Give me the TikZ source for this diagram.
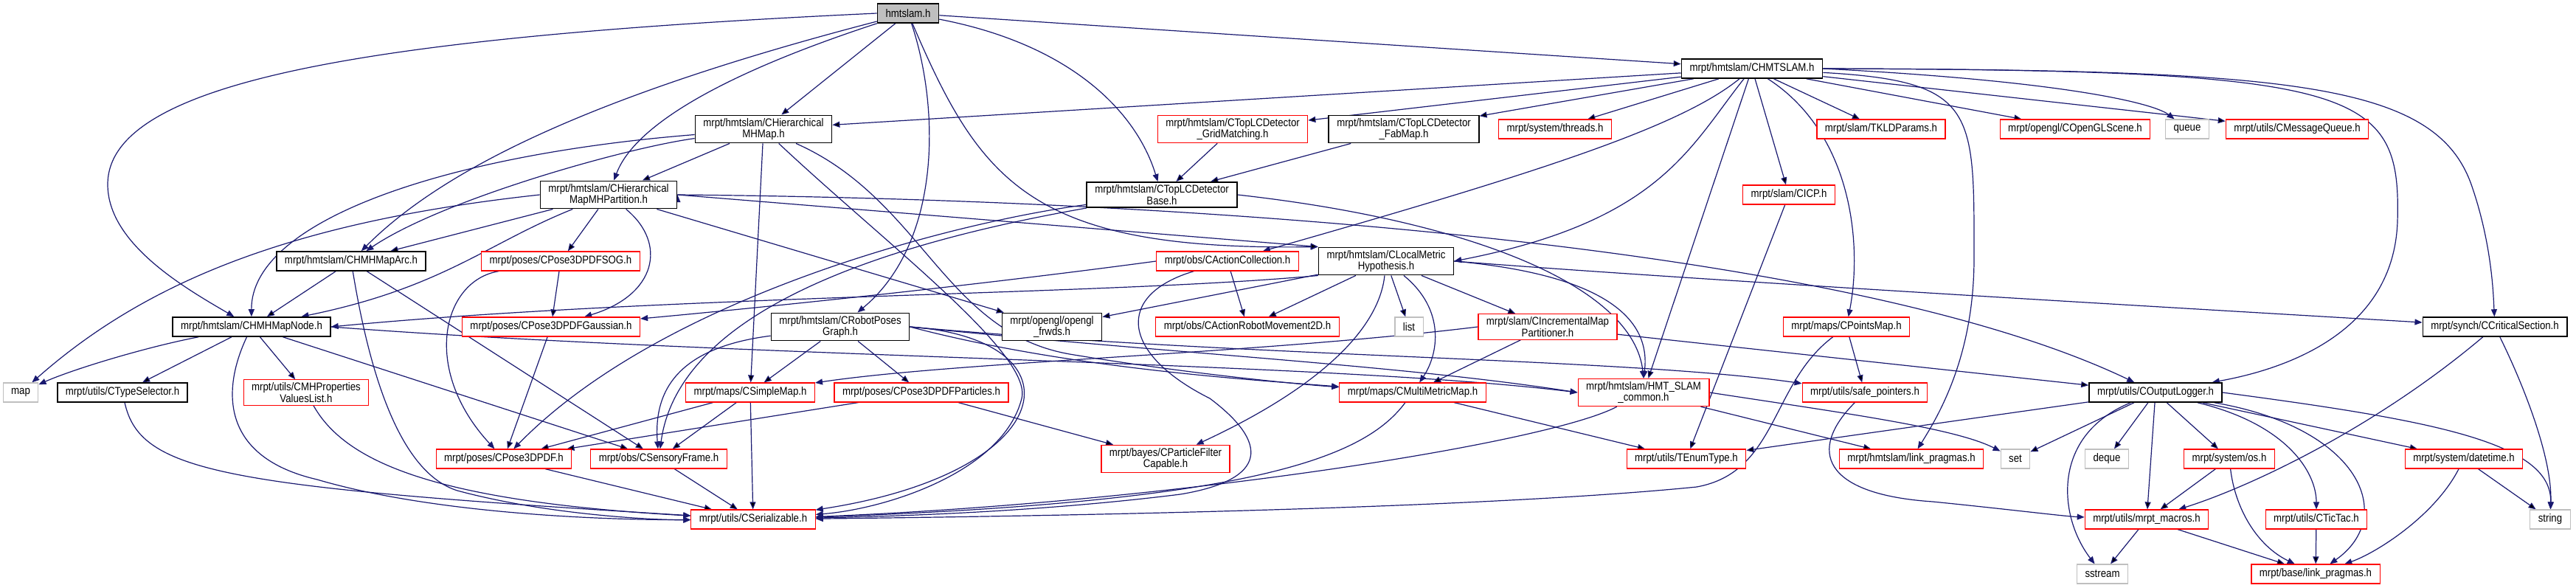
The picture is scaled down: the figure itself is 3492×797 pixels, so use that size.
\documentclass[tikz,border=0pt]{standalone}
\usepackage{fontspec}
\setmainfont{Liberation Sans}[FakeStretch=0.87]
\usetikzlibrary{arrows.meta,backgrounds}
\definecolor{edgeblue}{HTML}{191970}
\definecolor{boxgray}{HTML}{BFBFBF}
\newcommand*\fname{\fontsize{7.6}{7.6}\selectfont}

\begin{document}
\begin{tikzpicture}[x=0.5pt,y=-0.5pt,>={Triangle[length=5pt,width=4pt]},
	file/.style={shape=rectangle,draw,fill=white,font=\fname,align=center,inner xsep=5.5pt,inner ysep=2pt,minimum height=13pt,line width=0.6pt},
	docfile/.style={file,draw=black,line width=0.8pt},
	extfile/.style={file,draw=red},
	sysfile/.style={file,draw=boxgray},
	dep/.style={->,draw=edgeblue,line width=0.6pt}]
	\useasboundingbox (0,0) rectangle (3492,797);

	% top rows
	\node (hm) [docfile,fill=boxgray] at (1231,18) {hmtslam.h};
	\node (slam) [docfile] at (2375,93) {mrpt/hmtslam/CHMTSLAM.h};
	\node (mhm) [docfile] at (1035,175) {mrpt/hmtslam/CHierarchical\\MHMap.h};
	\node (grid) [extfile] at (1671,175) {mrpt/hmtslam/CTopLCDetector\\\_GridMatching.h};
	\node (fab) [docfile] at (1903,175) {mrpt/hmtslam/CTopLCDetector\\\_FabMap.h};
	\node (thr) [extfile] at (2108,175) {mrpt/system/threads.h};
	\node (tkld) [extfile] at (2550,175) {mrpt/slam/TKLDParams.h};
	\node (gls) [extfile] at (2813,175) {mrpt/opengl/COpenGLScene.h};
	\node (queue) [sysfile] at (2965,175) {queue};
	\node (mq) [extfile] at (3114,175) {mrpt/utils/CMessageQueue.h};
	\node (part) [docfile] at (825,264) {mrpt/hmtslam/CHierarchical\\MapMHPartition.h};
	\node (base) [docfile] at (1575,264) {mrpt/hmtslam/CTopLCDetector\\Base.h};
	\node (icp) [extfile] at (2425,264) {mrpt/slam/CICP.h};

	% middle rows
	\node (maparc) [docfile] at (476,354) {mrpt/hmtslam/CHMHMapArc.h};
	\node (sog) [extfile] at (760,354) {mrpt/poses/CPose3DPDFSOG.h};
	\node (acol) [extfile] at (1664,354) {mrpt/obs/CActionCollection.h};
	\node (lmh) [docfile] at (1879,354) {mrpt/hmtslam/CLocalMetric\\Hypothesis.h};
	\node (mapnode) [docfile] at (341,443) {mrpt/hmtslam/CHMHMapNode.h};
	\node (gauss) [extfile] at (747,443) {mrpt/poses/CPose3DPDFGaussian.h};
	\node (rpg) [docfile] at (1139,443) {mrpt/hmtslam/CRobotPoses\\Graph.h};
	\node (frwds) [docfile] at (1426,443) {mrpt/opengl/opengl\\\_frwds.h};
	\node (arm) [extfile] at (1691,443) {mrpt/obs/CActionRobotMovement2D.h};
	\node (stdlist) [sysfile] at (1910,443) {list};
	\node (imp) [extfile] at (2098,443) {mrpt/slam/CIncrementalMap\\Partitioner.h};
	\node (pmap) [extfile] at (2503,443) {mrpt/maps/CPointsMap.h};
	\node (crit) [docfile] at (3382,443) {mrpt/synch/CCriticalSection.h};
	\node (stdmap) [sysfile] at (28,532) {map};
	\node (tsel) [docfile] at (166,532) {mrpt/utils/CTypeSelector.h};
	\node (props) [extfile] at (415,532) {mrpt/utils/CMHProperties\\ValuesList.h};
	\node (smap) [extfile] at (1017,532) {mrpt/maps/CSimpleMap.h};
	\node (parts) [extfile] at (1249,532) {mrpt/poses/CPose3DPDFParticles.h};
	\node (mmm) [extfile] at (1915,532) {mrpt/maps/CMultiMetricMap.h};
	\node (hmtc) [extfile] at (2228,532) {mrpt/hmtslam/HMT\_SLAM\\\_common.h};
	\node (safe) [extfile] at (2528,532) {mrpt/utils/safe\_pointers.h};
	\node (logger) [docfile] at (2922,532) {mrpt/utils/COutputLogger.h};

	% bottom rows
	\node (pdf) [extfile] at (683,622) {mrpt/poses/CPose3DPDF.h};
	\node (sf) [extfile] at (893,622) {mrpt/obs/CSensoryFrame.h};
	\node (pfc) [extfile] at (1580,622) {mrpt/bayes/CParticleFilter\\Capable.h};
	\node (enum) [extfile] at (2286,622) {mrpt/utils/TEnumType.h};
	\node (hlp) [extfile] at (2591,622) {mrpt/hmtslam/link\_pragmas.h};
	\node (stdset) [sysfile] at (2732,622) {set};
	\node (deque) [sysfile] at (2856,622) {deque};
	\node (os) [extfile] at (3022,622) {mrpt/system/os.h};
	\node (dt) [extfile] at (3340,622) {mrpt/system/datetime.h};
	\node (ser) [extfile] at (1021,704) {mrpt/utils/CSerializable.h};
	\node (macros) [extfile] at (2910,704) {mrpt/utils/mrpt\_macros.h};
	\node (tictac) [extfile] at (3140,704) {mrpt/utils/CTicTac.h};
	\node (string) [sysfile] at (3457,704) {string};
	\node (sst) [sysfile] at (2850,778) {sstream};
	\node (blp) [extfile] at (3139,778) {mrpt/base/link\_pragmas.h};

	\begin{scope}[on background layer]
	% hmtslam.h
	\path[dep] (hm) edge (slam);
	\path[dep] (hm) edge (mhm);
	\draw[dep] (hm) .. controls (980,100) and (860,170) .. (part);
	\draw[dep] (hm) .. controls (800,130) and (600,230) .. (maparc);
	\draw[dep] (hm.west) .. controls (500,50) and (146,110) .. (146,250) .. controls (146,330) and (250,390) .. (mapnode);
	\draw[dep] (hm) .. controls (1275,150) and (1275,330) .. (rpg);
	\draw[dep] (hm) .. controls (1330,250) and (1400,340) .. (lmh.north west);
	\draw[dep] (hm) .. controls (1450,60) and (1540,150) .. (base);

	% CHMTSLAM.h
	\path[dep] (slam) edge (mhm);
	\path[dep] (slam) edge (grid);
	\path[dep] (slam) edge (fab);
	\path[dep] (slam) edge (thr);
	\draw[dep] (slam) .. controls (2280,170) and (2100,230) .. (acol);
	\draw[dep] (slam) .. controls (2290,200) and (2250,300) .. (lmh.east);
	\path[dep] (slam) edge (hmtc);
	\path[dep] (slam) edge (icp);
	\draw[dep] (slam) .. controls (2510,180) and (2525,330) .. (pmap);
	\path[dep] (slam) edge (tkld);
	\draw[dep] (slam) .. controls (2680,110) and (2676,150) .. (2676,350) .. controls (2676,480) and (2630,560) .. (hlp);
	\path[dep] (slam) edge (gls);
	\draw[dep] (slam.east) .. controls (2800,110) and (2920,140) .. (queue);
	\path[dep] (slam) edge (mq);
	\draw[dep] (slam.east) .. controls (3200,95) and (3255,120) .. (3250,300) .. controls (3245,450) and (3100,500) .. (logger);
	\draw[dep] (slam.east) .. controls (3100,95) and (3300,110) .. (3350,250) .. controls (3378,330) and (3380,400) .. (crit);

	% CHierarchicalMHMap.h
	\path[dep] (mhm) edge (part);
	\draw[dep] (mhm) .. controls (850,200) and (600,270) .. (maparc);
	\draw[dep] (mhm) .. controls (600,210) and (340,300) .. (mapnode);
	\path[dep] (mhm) edge (smap);
	\draw[dep] (mhm) .. controls (1200,330) and (1400,480) .. (1385,540) .. controls (1360,640) and (1200,690) .. (ser);
	\draw[dep] (mhm) .. controls (1250,270) and (1280,450) .. (1450,480) .. controls (1600,505) and (1750,520) .. (mmm);

	% CHierarchicalMapMHPartition.h
	\path[dep] (part) edge (maparc);
	\draw[dep] (part) .. controls (660,330) and (600,390) .. (mapnode);
	\draw[dep] (part.west) .. controls (400,300) and (200,380) .. (stdmap);
	\path[dep] (part) edge (sog);
	\draw[dep] (part) .. controls (905,330) and (890,400) .. (gauss);
	\path[dep] (part) edge (frwds);
	\path[dep] (part.east) edge (lmh.north west);
	\draw[dep] (part.east) .. controls (1600,270) and (2500,330) .. (logger);

	% CHMHMapArc.h, CHMHMapNode.h
	\path[dep] (maparc) edge (mapnode);
	\draw[dep] (maparc) .. controls (500,500) and (540,640) .. (620,665) .. controls (750,700) and (900,705) .. (ser);
	\path[dep] (maparc) edge (sf);
	\draw[dep] (mapnode) .. controls (200,470) and (100,500) .. (stdmap);
	\path[dep] (mapnode) edge (tsel);
	\path[dep] (mapnode) edge (props);
	\draw[dep] (mapnode) .. controls (300,530) and (300,620) .. (430,650) .. controls (600,700) and (850,705) .. (ser);
	\path[dep] (mapnode) edge (sf);
	\draw[dep] (mapnode.east) .. controls (1000,485) and (1800,490) .. (hmtc.west);
	\draw[dep] (tsel) .. controls (190,640) and (300,660) .. (ser);
	\draw[dep] (props) .. controls (470,630) and (600,680) .. (ser);

	% poses
	\draw[dep] (sog) .. controls (600,380) and (570,500) .. (pdf);
	\path[dep] (sog) edge (gauss);
	\path[dep] (gauss) edge (pdf);
	\path[dep] (pdf) edge (ser);
	\path[dep] (sf) edge (ser);

	% CRobotPosesGraph.h
	\path[dep] (rpg) edge (smap);
	\path[dep] (rpg) edge (parts);
	\draw[dep] (rpg) .. controls (930,470) and (885,520) .. (sf);
	\draw[dep] (rpg.east) .. controls (1470,460) and (1440,640) .. (ser);
	\draw[dep] (rpg.east) .. controls (1600,480) and (1900,495) .. (hmtc.west);
	\draw[dep] (rpg.east) .. controls (1450,500) and (1700,515) .. (mmm);
	\draw[dep] (rpg.east) .. controls (1700,485) and (2200,485) .. (safe);
	\path[dep] (smap) edge (sf);
	\path[dep] (smap) edge (ser);
	\path[dep] (smap) edge (pdf);
	\path[dep] (parts) edge (pdf);
	\path[dep] (parts) edge (pfc);

	% CActionCollection.h, CTopLCDetector*
	\path[dep] (acol) edge (arm);
	\draw[dep] (acol) .. controls (1510,400) and (1520,480) .. (1640,540) .. controls (1720,600) and (1720,650) .. (1600,670) .. controls (1400,695) and (1200,700) .. (ser);
	\draw[dep] (acol.west) .. controls (1300,390) and (1000,420) .. (gauss);
	\path[dep] (grid) edge (base);
	\path[dep] (fab) edge (base);
	\draw[dep] (base) .. controls (1300,300) and (900,400) .. (pdf);
	\draw[dep] (base) .. controls (1200,330) and (920,420) .. (sf);
	\draw[dep] (base.east) .. controls (2000,300) and (2215,390) .. (hmtc.north);

	% CLocalMetricHypothesis.h
	\draw[dep] (lmh.south west) .. controls (1500,400) and (900,400) .. (mapnode.east);
	\path[dep] (lmh) edge (frwds);
	\path[dep] (lmh) edge (arm);
	\path[dep] (lmh) edge (stdlist);
	\draw[dep] (lmh) .. controls (1870,440) and (1800,520) .. (pfc);
	\draw[dep] (lmh) .. controls (1960,420) and (1950,480) .. (mmm);
	\path[dep] (lmh) edge (imp);
	\draw[dep] (lmh.east) .. controls (2150,370) and (2240,420) .. (hmtc.north);
	\draw[dep] (lmh.east) .. controls (2300,380) and (3000,420) .. (crit);

	% maps, slam
	\draw[dep] (imp.west) .. controls (1700,480) and (1300,490) .. (smap);
	\path[dep] (imp) edge (mmm);
	\path[dep] (imp) edge (logger);
	\draw[dep] (pmap) .. controls (2400,520) and (2410,640) .. (2300,660) .. controls (2000,690) and (1400,700) .. (ser);
	\path[dep] (pmap) edge (safe);
	\draw[dep] (mmm) .. controls (1850,620) and (1700,680) .. (ser);
	\path[dep] (mmm) edge (enum);
	\draw[dep] (hmtc) .. controls (2100,600) and (1600,680) .. (ser);
	\path[dep] (hmtc) edge (hlp);
	\draw[dep] (hmtc.east) .. controls (2500,560) and (2650,580) .. (stdset);
	\draw[dep] (safe) .. controls (2450,610) and (2470,670) .. (2620,680) .. controls (2720,690) and (2800,700) .. (macros);
	\path[dep] (icp) edge (enum);

	% COutputLogger.h and below
	\path[dep] (logger) edge (enum);
	\path[dep] (logger) edge (stdset);
	\path[dep] (logger) edge (deque);
	\path[dep] (logger) edge (macros);
	\path[dep] (logger) edge (os);
	\draw[dep] (logger) .. controls (2780,590) and (2790,700) .. (sst);
	\draw[dep] (logger) .. controls (3100,575) and (3140,640) .. (tictac);
	\draw[dep] (logger) .. controls (3200,580) and (3250,700) .. (blp);
	\path[dep] (logger) edge (dt);
	\draw[dep] (logger.east) .. controls (3300,570) and (3460,600) .. (string);
	\path[dep] (os) edge (macros);
	\draw[dep] (os) .. controls (3030,690) and (3060,740) .. (blp);
	\draw[dep] (dt) .. controls (3300,700) and (3220,750) .. (blp);
	\path[dep] (dt) edge (string);
	\path[dep] (tictac) edge (blp);
	\path[dep] (macros) edge (sst);
	\path[dep] (macros) edge (blp);
	\draw[dep] (crit) .. controls (3220,580) and (3050,660) .. (macros);
	\draw[dep] (crit) .. controls (3420,520) and (3460,620) .. (string);
	\end{scope}
\end{tikzpicture}
\end{document}
